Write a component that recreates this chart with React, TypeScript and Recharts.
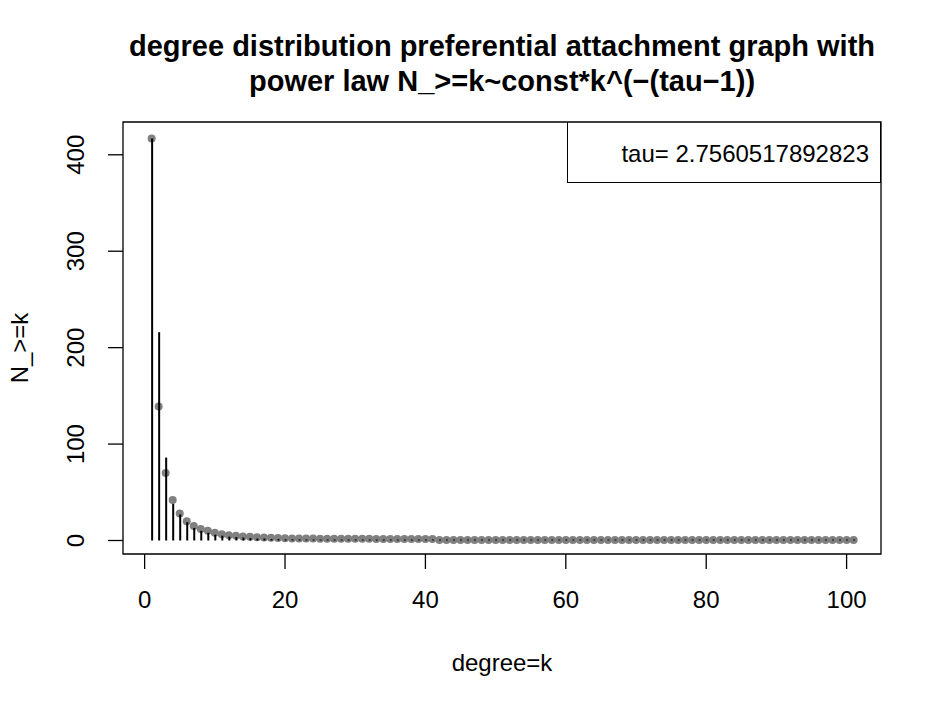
import {
  ComposedChart,
  Bar,
  Scatter,
  XAxis,
  YAxis,
  ReferenceArea,
  Label,
} from "recharts";

// degree k = 1..101
const degrees = [
  1, 2, 3, 4, 5, 6, 7, 8, 9, 10, 11, 12, 13, 14, 15, 16, 17, 18, 19, 20,
  21, 22, 23, 24, 25, 26, 27, 28, 29, 30, 31, 32, 33, 34, 35, 36, 37, 38, 39, 40,
  41, 42, 43, 44, 45, 46, 47, 48, 49, 50, 51, 52, 53, 54, 55, 56, 57, 58, 59, 60,
  61, 62, 63, 64, 65, 66, 67, 68, 69, 70, 71, 72, 73, 74, 75, 76, 77, 78, 79, 80,
  81, 82, 83, 84, 85, 86, 87, 88, 89, 90, 91, 92, 93, 94, 95, 96, 97, 98, 99, 100,
  101,
];

// gray points: N_>=k
const countAtLeast = [
  417, 139, 70, 42, 28, 20, 15, 12, 10, 8, 6.5, 5.5, 4.8, 4.2, 3.8, 3.4, 3.1, 2.8, 2.6, 2.4,
  2.2, 2.1, 2, 2, 1.9, 1.9, 1.8, 1.8, 1.8, 1.7, 1.7, 1.7, 1.6, 1.6, 1.6, 1.6, 1.5, 1.5, 1.5, 1.5,
  1.5, 0.4, 0.4, 0.4, 0.4, 0.4, 0.4, 0.4, 0.4, 0.4, 0.4, 0.4, 0.4, 0.4, 0.4, 0.4, 0.4, 0.4, 0.4, 0.4,
  0.4, 0.4, 0.4, 0.4, 0.4, 0.4, 0.4, 0.4, 0.4, 0.4, 0.4, 0.4, 0.4, 0.4, 0.4, 0.4, 0.4, 0.4, 0.4, 0.4,
  0.4, 0.4, 0.4, 0.4, 0.4, 0.4, 0.4, 0.4, 0.4, 0.4, 0.4, 0.4, 0.4, 0.4, 0.4, 0.4, 0.4, 0.4, 0.4, 0.4,
  0.4,
];

// black spikes: power law const*k^(-(tau-1))
const powerLaw = [
  417, 216, 86, 38, 27, 19, 13, 10, 8, 6, 5, 4, 3.5, 3, 2.5, 2, 2, 1.5, 1.5, 1.2,
  1.2, 1.1, 1.1, 1, 1, 1, 1, 1, 1, 1, 1, 1, 1, 1, 1, 1, 1, 1, 1, 1,
  1, 1, 1, 1, 1, 1, 1, 1, 1, 1, 1, 1, 1, 1, 1, 1, 1, 1, 1, 1,
  1, 1, 1, 1, 1, 1, 1, 1, 1, 1, 1, 1, 1, 1, 1, 1, 1, 1, 1, 1,
  1, 1, 1, 1, 1, 1, 1, 1, 1, 1, 1, 1, 1, 1, 1, 1, 1, 1, 1, 1,
  1,
];

const xTicks = [0, 20, 40, 60, 80, 100];
const yTicks = [0, 100, 200, 300, 400];
const tauText = "tau= 2.7560517892823";

const rows = degrees.map((k, i) => ({ k, n: countAtLeast[i], fit: powerLaw[i] }));

const FONT = "'Liberation Sans', Arial, Helvetica, sans-serif";
const X_DOMAIN = [-3.08, 104.9];
const Y_DOMAIN = [-14, 434];

const YTick = ({ x, y, payload }: any) => (
  <text x={x - 22} y={y} transform={`rotate(-90, ${x - 22}, ${y})`} textAnchor="middle"
    fontSize={24} fontFamily={FONT} fill="#000">
    {payload.value}
  </text>
);

const Dot = ({ cx, cy }: any) => <circle cx={cx} cy={cy} r={4} fill="#808080" />;

export default function App() {
  return (
    <div style={{ position: "absolute", left: 0, top: 0, width: 944, height: 709, background: "#fff", fontFamily: FONT }}>
      <div style={{ position: "absolute", left: 123, width: 758, top: 29, textAlign: "center", fontWeight: "bold", fontSize: 29, lineHeight: "35px", color: "#000", whiteSpace: "nowrap" }}>
        degree distribution preferential attachment graph with<br />
        power law N_&gt;=k~const*k^(−(tau−1))
      </div>
      <ComposedChart width={944} height={709} data={rows}
        margin={{ top: 122, right: 63, bottom: 0, left: 0 }}>
        <XAxis dataKey="k" type="number" domain={X_DOMAIN} ticks={xTicks} allowDataOverflow
          height={155} tickSize={15} tickMargin={22}
          axisLine={false} tickLine={{ stroke: "#000", strokeWidth: 1.3 }}
          tick={{ fontSize: 24, fill: "#000", fontFamily: FONT }}>
          <Label value="degree=k" position="insideBottom" offset={38}
            style={{ fontSize: 24, fill: "#000", fontFamily: FONT }} />
        </XAxis>
        <YAxis type="number" domain={Y_DOMAIN} ticks={yTicks} allowDataOverflow
          width={123} tickSize={15} axisLine={false}
          tickLine={{ stroke: "#000", strokeWidth: 1.3 }} tick={<YTick />}>
          <Label content={({ viewBox }: any) => {
            const x = viewBox.x + 28;
            const y = viewBox.y + viewBox.height / 2 + 10;
            return (
              <text x={x} y={y} transform={`rotate(-90, ${x}, ${y})`} textAnchor="middle"
                fontSize={24} fontFamily={FONT} fill="#000">N_&gt;=k</text>
            );
          }} />
        </YAxis>
        <ReferenceArea x1={X_DOMAIN[0]} x2={X_DOMAIN[1]} y1={Y_DOMAIN[0]} y2={Y_DOMAIN[1]}
          fill="none" stroke="#000" strokeWidth={1.3} fillOpacity={0} />
        <Scatter dataKey="n" shape={<Dot />} isAnimationActive={false} />
        <Bar dataKey="fit" barSize={2} fill="#000" isAnimationActive={false} zIndex={700} />
      </ComposedChart>
      <div style={{ position: "absolute", left: 567, top: 122, width: 314, height: 61, border: "1.3px solid #000", borderTop: "none", boxSizing: "border-box", display: "flex", alignItems: "center", justifyContent: "flex-end", paddingRight: 11, paddingTop: 4, fontSize: 24, color: "#000" }}>
        {tauText}
      </div>
    </div>
  );
}
